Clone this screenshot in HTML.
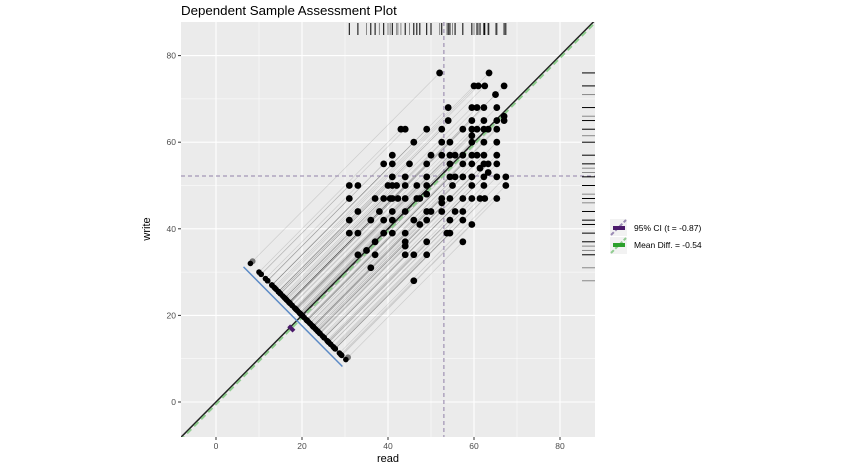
<!DOCTYPE html>
<html><head><meta charset="utf-8"><style>
body{margin:0;background:#fff;width:864px;height:468px;overflow:hidden}
svg{font-family:"Liberation Sans",sans-serif}
</style></head><body>
<svg width="864" height="468">
<defs><clipPath id="pc"><rect x="181" y="22" width="414" height="415"/></clipPath></defs>
<text x="181" y="15" font-size="13.3" fill="#000">Dependent Sample Assessment Plot</text>
<rect x="181" y="22" width="414" height="415" fill="#EBEBEB"/>
<g id="grid"></g>
<g id="marks" clip-path="url(#pc)"></g>
<g id="axes"></g>
<text x="388" y="462" font-size="11" text-anchor="middle">read</text>
<text transform="translate(150,229) rotate(-90)" font-size="11" text-anchor="middle">write</text>
<g>
<rect x="610" y="219" width="17" height="17" fill="#F2F2F2"/>
<line x1="611" y1="235" x2="626" y2="220" stroke="#9a8ab4" stroke-width="2" stroke-dasharray="4,2"/>
<rect x="613" y="226" width="12" height="4" fill="#4B1A6B"/>
<rect x="610" y="237" width="17" height="17" fill="#F2F2F2"/>
<line x1="611" y1="253" x2="626" y2="238" stroke="#90cc90" stroke-width="2" stroke-dasharray="4,2"/>
<rect x="613" y="243" width="12" height="4" fill="#2CA02C"/>
<text x="634" y="231" font-size="8.5">95% CI (t = -0.87)</text>
<text x="634" y="248" font-size="8.5">Mean Diff. = -0.54</text>
</g>
</svg>
<script>
const writeRows = [76,73,71,68,66,65,63,61.5,60,57,55,54,53,52,50,48,47,46,44,42,41,39,37,36,35,34,31,28];
const readRows = [
[52,63.5],[60,61,62.5,67],[65],[54,59.5,60.7,62.3,65.3],[67],[54,59.5,62.3,65.3,67],
[43,44,49,52.5,57.4,59.5,60.7,62.3,63.3,65.3],[59.5],[46,52.5,54.4,59.5,62.3,65.3],
[41,50,52.5,54.4,55.6,57.4,59.5,60.7,62.3,65.3],[39,41,45,49,54.4,57.4,59.5,62.3,63.3,65.3],
[61.4],[63.3],[41,44,49,54.4,55.6,57.4,59.5,62.3,65.3,67.4],
[31,33,40,41,42,44,46.7,49,55,59.5,62.3,67.4],[49],
[31,37,39,40.5,41,42.3,44,46.7,47.4,52.5,54.4,57.4,59.5,61.4,62.5,65.3],[52.5],
[33,38,41,44,49,50,52.5,55.6,57.4],[31,36,39,41,46,49,54.4,57.4],[47.4,59.5],
[31,33,39,41,44,53.7,54.4],[37,44,49,57.4],[44],[35],[33,37,44,46,49],[36],[46]];
const meanDiff = -0.54;
const ciLow = -1.76, ciHigh = 0.68;
const meanRead = 53.0, meanWrite = 52.2;
const xTicks = [0,20,40,60,80];
const yTicks = [0,20,40,60,80];

const NS="http://www.w3.org/2000/svg";
const sx=v=>216+v*4.3, sy=v=>402-v*4.33;
function mk(tag,attrs,parent){const e=document.createElementNS(NS,tag);for(const k in attrs)e.setAttribute(k,attrs[k]);parent.appendChild(e);return e;}
const grid=document.getElementById('grid'), marks=document.getElementById('marks'), axes=document.getElementById('axes');
const read=[], write=[];
writeRows.forEach((w,i)=>readRows[i].forEach(r=>{read.push(r);write.push(w);}));
for(let v=-10;v<=90;v+=10){
  const major=v%20===0;
  if(sx(v)>181&&sx(v)<595){const l=mk('line',{x1:sx(v),x2:sx(v),y1:22,y2:437,stroke:'#fff','stroke-width':major?1.1:0.5},grid);
  }
  if(sy(v)>22&&sy(v)<437){const l=mk('line',{x1:181,x2:595,y1:sy(v),y2:sy(v),stroke:'#fff','stroke-width':major?1.1:0.5},grid);
  }
}
xTicks.forEach(t=>{mk('line',{x1:sx(t),x2:sx(t),y1:437,y2:440,stroke:'#333'},axes);
 const tx=mk('text',{x:sx(t),y:449,'font-size':8.5,'text-anchor':'middle',fill:'#4d4d4d'},axes);tx.textContent=t;
 });
yTicks.forEach(t=>{mk('line',{x1:178,x2:181,y1:sy(t),y2:sy(t),stroke:'#333'},axes);
 const tx=mk('text',{x:176,y:sy(t)+3,'font-size':8.5,'text-anchor':'end',fill:'#4d4d4d'},axes);tx.textContent=t;
 });
const c=40;
const proj=(x,y,cc)=>{const s=(x+y-cc)/2;return [x-s,y-s];};
read.forEach((r,i)=>{const p=proj(r,write[i],c);
 const l=mk('line',{x1:sx(r),y1:sy(write[i]),x2:sx(p[0]),y2:sy(p[1]),stroke:'rgba(0,0,0,0.13)','stroke-width':0.7},marks);
 });
let l=mk('line',{x1:sx(meanRead),x2:sx(meanRead),y1:22,y2:437,stroke:'#9080a8','stroke-dasharray':'4,3','stroke-width':1},marks);

l=mk('line',{x1:181,x2:595,y1:sy(meanWrite),y2:sy(meanWrite),stroke:'#9080a8','stroke-dasharray':'4,3','stroke-width':1},marks);

l=mk('line',{x1:sx(-10),y1:sy(-10),x2:sx(95),y2:sy(95),stroke:'#222','stroke-width':1.5},marks);

l=mk('line',{x1:sx(-10),y1:sy(-10+meanDiff),x2:sx(95),y2:sy(95+meanDiff),stroke:'#8fce8f','stroke-width':2,'stroke-dasharray':'6,4'},marks);

const diffs=read.map((r,i)=>write[i]-r);
const dmax=Math.max(...diffs), dmin=Math.min(...diffs);
const at=(d,cc)=>[cc/2-d/2,cc/2+d/2];
let a=at(dmax+0.8,37.6),b=at(dmin-0.8,37.6);
l=mk('line',{x1:sx(a[0]),y1:sy(a[1]),x2:sx(b[0]),y2:sy(b[1]),stroke:'#5b8ac6','stroke-width':1.5},marks);

[dmax,dmin].forEach(d=>{const p=at(d,41);const g=mk('circle',{cx:sx(p[0]),cy:sy(p[1]),r:3,fill:'#777'},marks);
 });
a=at(ciLow,34.5);b=at(ciHigh,34.5);
l=mk('line',{x1:sx(a[0]),y1:sy(a[1]),x2:sx(b[0]),y2:sy(b[1]),stroke:'#4B1A6B','stroke-width':4},marks);

diffs.forEach(d=>{const p=at(d,c);const e=mk('circle',{cx:sx(p[0]),cy:sy(p[1]),r:2.8,fill:'#000'},marks);
 });
read.forEach((r,i)=>{const e=mk('circle',{cx:sx(r),cy:sy(write[i]),r:3.4,fill:'#000'},marks);
 });
const cnt=(arr,v)=>arr.filter(x=>x===v).length;
[...new Set(read)].forEach(r=>{const e=mk('line',{x1:sx(r),x2:sx(r),y1:23,y2:35,stroke:cnt(read,r)>1?'#000':'#888','stroke-width':1},marks);
 });
[...new Set(write)].forEach(w=>{const e=mk('line',{x1:582,x2:595,y1:sy(w),y2:sy(w),stroke:cnt(write,w)>1?'#000':'#888','stroke-width':1},marks);
 });
</script>
</body></html>
